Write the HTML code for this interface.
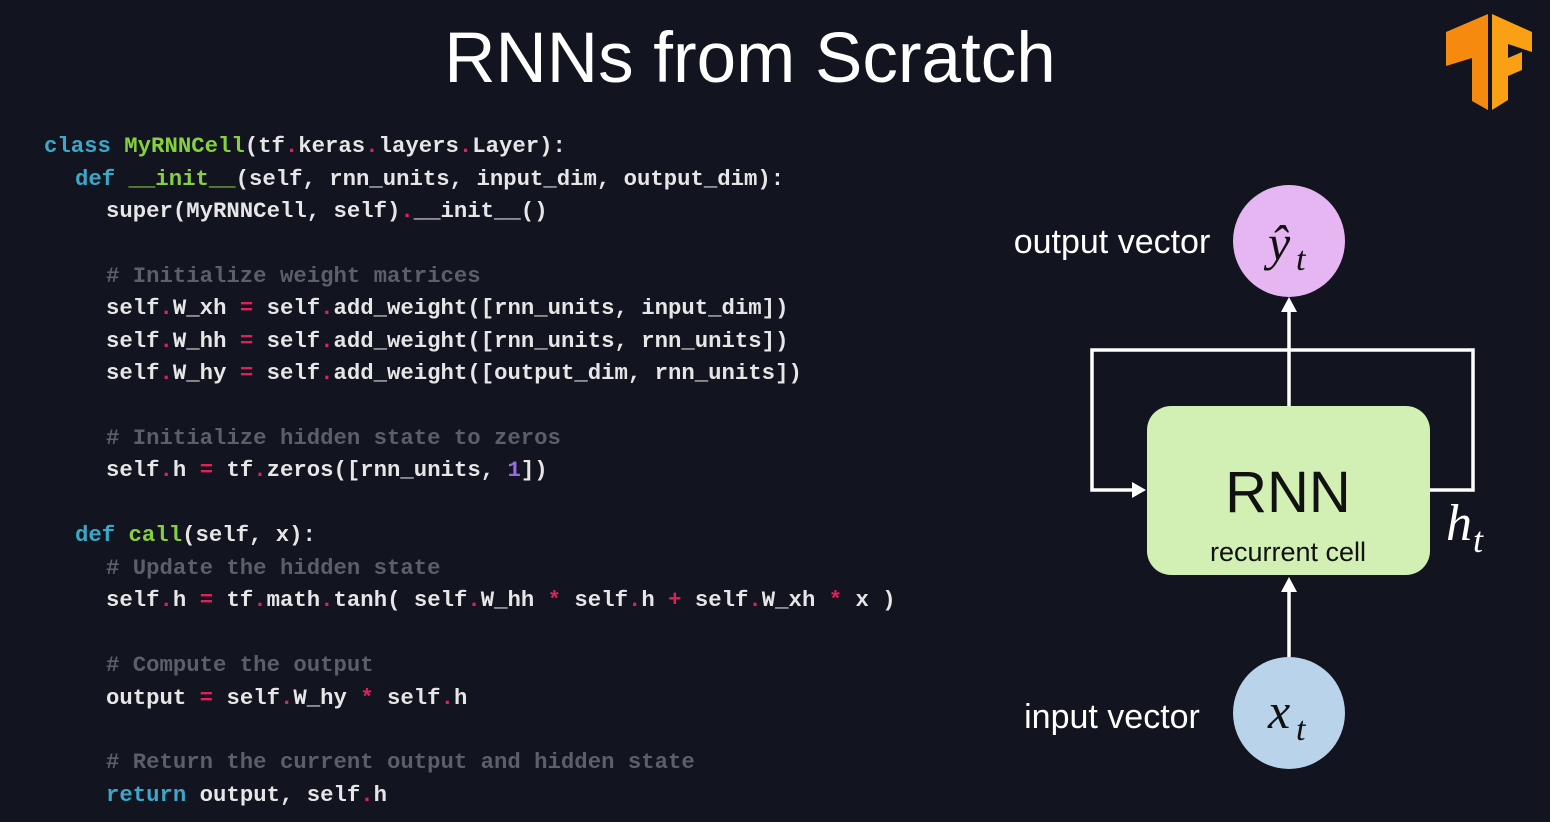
<!DOCTYPE html>
<html><head><meta charset="utf-8"><style>
body{margin:0;width:1550px;height:822px;background:#12141f;overflow:hidden;position:relative;font-family:"Liberation Sans",sans-serif}
.t{position:absolute;left:0;width:1500px;text-align:center;top:18px;font-size:71px;color:#fff}
.c{position:absolute;font-family:"Liberation Mono",monospace;font-weight:bold;font-size:22.3px;color:#e6e6e6;white-space:pre;line-height:26px}
.k{color:#3ba8c8}.g{color:#86d040}.r{color:#e0205a}.m{color:#5c5e6a}.p{color:#9a6ae0}
</style></head><body>
<div class="t">RNNs from Scratch</div>
<svg style="position:absolute;left:1444px;top:14px" width="92" height="96" viewBox="0 0 92 96">
<polygon points="2,18 44,0 44,96 28,87 28,44 2,52" fill="#f58a0e"/>
<polygon points="48,0 88,18 88,38 64,30 64,44 78,38 78,56 64,62 64,86 48,96" fill="#f9a015"/>
</svg>
<div class="c" style="left:44px;top:133px"><span class="k">class</span> <span class="g">MyRNNCell</span>(tf<span class="r">.</span>keras<span class="r">.</span>layers<span class="r">.</span>Layer):</div>
<div class="c" style="left:75px;top:166px"><span class="k">def</span> <span class="g">__init__</span>(self, rnn_units, input_dim, output_dim):</div>
<div class="c" style="left:106px;top:198px">super(MyRNNCell, self)<span class="r">.</span>__init__()</div>
<div class="c m" style="left:106px;top:263px"># Initialize weight matrices</div>
<div class="c" style="left:106px;top:295px">self<span class="r">.</span>W_xh <span class="r">=</span> self<span class="r">.</span>add_weight([rnn_units, input_dim])</div>
<div class="c" style="left:106px;top:328px">self<span class="r">.</span>W_hh <span class="r">=</span> self<span class="r">.</span>add_weight([rnn_units, rnn_units])</div>
<div class="c" style="left:106px;top:360px">self<span class="r">.</span>W_hy <span class="r">=</span> self<span class="r">.</span>add_weight([output_dim, rnn_units])</div>
<div class="c m" style="left:106px;top:425px"># Initialize hidden state to zeros</div>
<div class="c" style="left:106px;top:457px">self<span class="r">.</span>h <span class="r">=</span> tf<span class="r">.</span>zeros([rnn_units, <span class="p">1</span>])</div>
<div class="c" style="left:75px;top:522px"><span class="k">def</span> <span class="g">call</span>(self, x):</div>
<div class="c m" style="left:106px;top:555px"># Update the hidden state</div>
<div class="c" style="left:106px;top:587px">self<span class="r">.</span>h <span class="r">=</span> tf<span class="r">.</span>math<span class="r">.</span>tanh( self<span class="r">.</span>W_hh <span class="r">*</span> self<span class="r">.</span>h <span class="r">+</span> self<span class="r">.</span>W_xh <span class="r">*</span> x )</div>
<div class="c m" style="left:106px;top:652px"># Compute the output</div>
<div class="c" style="left:106px;top:685px">output <span class="r">=</span> self<span class="r">.</span>W_hy <span class="r">*</span> self<span class="r">.</span>h</div>
<div class="c m" style="left:106px;top:749px"># Return the current output and hidden state</div>
<div class="c" style="left:106px;top:782px"><span class="k">return</span> output, self<span class="r">.</span>h</div>
<svg style="position:absolute;left:0;top:0" width="1550" height="822">
<g stroke="#fff" stroke-width="3.5" fill="none">
<polyline points="1430,490 1473,490 1473,350 1092,350 1092,490 1136,490"/>
<line x1="1289" y1="406" x2="1289" y2="308"/>
<line x1="1289" y1="657" x2="1289" y2="588"/>
</g>
<g fill="#fff">
<polygon points="1146,490 1132,482 1132,498"/>
<polygon points="1289,297 1281,312 1297,312"/>
<polygon points="1289,577 1281,592 1297,592"/>
</g>
<circle cx="1289" cy="241" r="56" fill="#e6b6f2"/>
<circle cx="1289" cy="713" r="56" fill="#b8d3ea"/>
<rect x="1147" y="406" width="283" height="169" rx="24" fill="#d2efb4"/>
<text x="1288" y="512" font-size="58" text-anchor="middle" fill="#111" font-family="Liberation Sans">RNN</text>
<text x="1288" y="561" font-size="27" text-anchor="middle" fill="#111" font-family="Liberation Sans">recurrent cell</text>
<text x="1112" y="253" font-size="34" text-anchor="middle" fill="#fff" font-family="Liberation Sans">output vector</text>
<text x="1112" y="728" font-size="34" text-anchor="middle" fill="#fff" font-family="Liberation Sans">input vector</text>
<g font-family="Liberation Serif" font-style="italic" fill="#111">
<text x="1268" y="260" font-size="50">ŷ</text><text x="1296" y="270" font-size="34">t</text>
<text x="1268" y="728" font-size="50">x</text><text x="1296" y="740" font-size="34">t</text>
</g>
<g font-family="Liberation Serif" font-style="italic" fill="#fff">
<text x="1446" y="540" font-size="52">h</text><text x="1473" y="552" font-size="36">t</text>
</g>
</svg>
</body></html>
